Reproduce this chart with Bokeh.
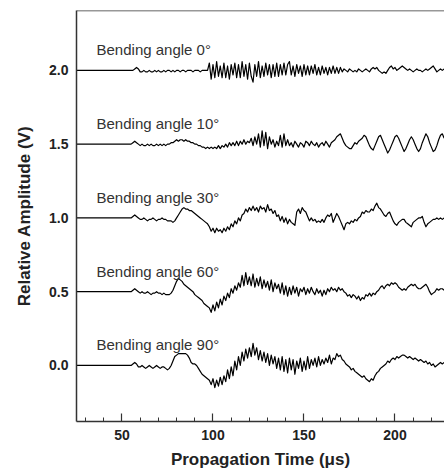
from bokeh.plotting import figure
from bokeh.models import ColumnDataSource, SingleIntervalTicker, FixedTicker, Span, NumeralTickFormatter
from bokeh.core.properties import value
from bokeh.embed import file_html
from bokeh.resources import INLINE

# ---- data ----
# time axis (µs): traces start at the left edge, sampled every 1 µs from 55 µs
t_left = 25
t_first = 55
offsets = [2.0, 1.5, 1.0, 0.5, 0.0]          # vertical offset of each trace (V)
angles = ["0", "10", "30", "60", "90"]       # bending angle of each trace
# deviations from the offset, in units of 0.01 V, one per µs from 55 µs
amp_0 = [0, 0, 1, 2, 1, -1, -1, 0, -1, -1, 0, -1, -1, 0, -1, 0, -1, -1, 0, -1,
         0, 0, -1, 0, -1, 0, 0, -1, 0, 0, -1, 0, 0, 0, -1, 0, 0, 0, -1, 0, 0, 0, 0,
         5, -6, 4, -5, 6, -4, 3, -5, 5, -5, 3, -6, 4, -3, 5, -5, 4, -5, 6, -4,
         4, -6, 5, -4, -8, 4, -4, 6, -5, 3, -4, 5, -3, 4, -5, 4, -4, 5, -4, 4,
         -3, 5, -3, 4, 6, -3, 3, -4, 4, -2, 3, -4, 4, -3, 3, -3, 3, -2, 4, -3,
         2, -3, 3, -2, 2, -3, 2, -2, 3, -2, 2, -2, 2,
         -1, 1, 0, -1, 1, 0, -1, 0, -1, 1, 0, -1, 0, 1, 0, -1, 1, 2, 1, 2,
         0, -1, -2, -1, -2, 0, 2, 3, 1, 2, 0, 1, 2, 3, 2, 1, 0, 1, 0, -1,
         0, 1, 0, 0, -1, 0, 1, 0, 1, 2, 3, 1, -1, 0, 1, 0, 1]
amp_10 = [0, 1, 2, 1, 0, -1, 0, -1, -1, 0, -1, 0, -1, -1, 0, -1, 0, -1, 0, -1,
          0, 0, 1, 1, 2, 3, 2, 3, 3, 2, 3, 2, 2, 1, 1, 0, 0, -1, -1, -2, -2, -3, -2,
          -3, -2, -3, -2, -3, -1, -3, -1, -2, 0, -2, 1, -1, 1, -1, 2, -1, 2, 0, 3,
          0, 2, 1, 4, -1, 5, 0,
          7, -2, 9, -1, 8, -3, 5, 0, 3, -2, 2, -1, 6, -2, 7, -1, 3,
          -1, 1, -2, 2, 0, -2, 1, 0, -2, 2, 1, -1, 2, 0, -1, 1, -2, 0, 1, -1,
          2, 0, -2, 1, 2, 3, 5, 6,
          7, 4, 1, -1, -2, -3, -3, -1, 1, 0, 2, 3, 4, 6, 5, 2, -1, -3, -4, -1,
          2, 5, 6, 3, 0, -3, -6, -4, -1, 2, 5, 6, 4, 1, -2, -5, -3, 0, 3, 5,
          3, 0, -3, -5, -3, 1, 4, 7, 5, 1, -2, -5, -4, -1, 3, 6, 7, 4]
amp_30 = [0, 1, 2, 1, 0, -1, -1, 0, -1, -2, -1, -1, 0, -1, -2, -1, -1, 0, -1, -1, -2, -2,
          -2, -3, -2, 0, 2, 4, 6, 7, 6, 6, 5, 5, 4, 3, 2, 1, 0, -1, -2, -3, -4,
          -6, -9, -7, -10, -7, -9, -8, -10, -7, -9, -6, -8, -4, -6, -2, -4, 0, -2, 2,
          3, 6, 4, 7, 5, 8, 5, 7, 4, 8, 6, 7, 4, 9, 5, 6, 3, 5, 1,
          2, -2, 1, -3, 0, -4, -1, -3, -4, -5, 4, 6, 3, 7, 5, 4, 1, -2, 0, -2,
          -1, -3, -2, -3, -1, -3, 0, 2, 1, 3, -3, 0, 3, 1, -2, -5, -8, -4, -3, -4,
          -2, -3, -1, -2, 0, 1, 4, 3, 5, 4, 4, 6, 5, 8, 10, 7, 6, 4, 2, 1,
          3, 4, 1, -2, -4, -5, -3, -2, -1, -1, -3, -4, -5, -6, -3, -2, -1, 0, 0, 1,
          -3, -6, -4, -3, -2, -1, -1, 0, -1, 0, -1, 0]
amp_60 = [0, 1, 2, 1, 0, -1, 0, -1, -1, 0, -1, -2, -1, -1, 0, -1, -1, -2, -1, -2, -2,
          -2, -1, 1, 4, 7, 9, 8, 7, 5, 4, 3, 2, 1, 0, -2, -3, -4, -5, -6, -8, -9, -10,
          -11, -14, -9, -13, -7, -11, -5, -9, -3, -6, -1, -4, 2, -1, 4, 1, 6,
          3, 11, 4, 13, 5, 10, 4, 12, 3, 9, 4, 10, 2, 8, 3, 7, 1, 8, 0, 6,
          2, 5, -1, 6, -2, 4,
          -3, 3, -2, 4, -1, 3, -3, 2, 0, 3, -2, 2, -1, 3, 0, -2, 2, -1, 1, -3,
          1, -2, 2, 0, 3, 1, 2, 0, 3, 1, 2, 0, -1,
          -3, -2, -4, -2, -3, -5, -3, -6, -4, -5, -2, -3, -1, -3, -1, -2, 0, 1, 3, 4,
          2, 4, 5, 4, 6, 5, 6, 5, 3, 2, 1, 2, 1, 3, 4, 5, 4, 5, 3, 2,
          2, 3, 4, 5, 3, 0, -2, -1, 0, 2, 1, 2, 2, 1]
amp_90 = [0, 1, 2, 1, -1, -1, 0, -1, -2, -1, 0, -1, -2, -1, 0, -1, -2, -1, -1, -2, -3, -2,
          0, 3, 6, 7, 8, 8, 8, 8, 8, 7, 5, 2, 1, 1, 0, -2, -4, -6, -7, -8, -9,
          -10, -13, -9, -15, -10, -14, -8, -13, -7, -11, -3, -9, -1, -7, 3, -3, 6, 0, 9, 3,
          11, 5, 12, 6, 15, 7, 12,
          4, 10, 3, 9, 2, 8, 0, 7, 1, 6, -2, 5, -3, 6, -4, 4, -5, 5, -3, 4,
          -6, 3, -2, 5, -4, 3, -3, 6, -2, 4, 0, 5, -1, 6, 0, 4, 1, 5, 2, 7,
          1, 5, 4,
          8, 6, 7, 4, 3, 1, 0, -1, -3, -2, -4, -5, -6, -7, -8, -7, -9, -10, -11, -9,
          -10, -7, -5, -4, -2, -1, 0, 1, 3, 2, 4, 5, 4, 6, 5, 6, 7, 7, 6, 5,
          6, 5, 4, 5, 4, 3, 4, 3, 2, 3, 1, 2, 0, 1, -1, 0, 1, 2, 1, 2]
traces = [amp_0, amp_10, amp_30, amp_60, amp_90]
x_ticks_interval = 50
y_ticks = [0.0, 0.5, 1.0, 1.5, 2.0]

x_lo, x_hi = 25, 227.2
y_lo, y_hi = -0.38, 2.406

FONT = "Liberation Sans"
INK = "#222222"

p = figure(width=444, height=471, x_range=(x_lo, x_hi), y_range=(y_lo, y_hi),
           output_backend="svg", toolbar_location=None,
           min_border_left=76, min_border_right=0, min_border_top=10, min_border_bottom=0)
p.grid.visible = False
p.outline_line_color = None
p.background_fill_color = "white"
p.border_fill_color = "white"

for off, amp in zip(offsets, traces):
    xs = [t_left] + [t_first + i for i in range(len(amp))]
    ys = [off] + [off + a / 100.0 for a in amp]
    src = ColumnDataSource(dict(x=xs, y=ys))
    p.line("x", "y", source=src, line_color="black", line_width=1.2, line_join="round")

lab_src = ColumnDataSource(dict(
    x=[36] * len(offsets),
    y=[o + 0.14 for o in offsets],
    text=["Bending angle %s\u00b0" % a for a in angles]))
p.text("x", "y", text="text", source=lab_src, text_font=value(FONT),
       text_font_size="15px", text_color="#333333",
       text_baseline="alphabetic", text_align="left")

# top frame line
p.add_layout(Span(location=y_hi, dimension="width", line_color="#333333", line_width=1.5))

xa = p.xaxis[0]
xa.ticker = SingleIntervalTicker(interval=x_ticks_interval, num_minor_ticks=5)
xa.major_tick_in = 8
xa.major_tick_out = 0
xa.minor_tick_in = 4
xa.minor_tick_out = 0
xa.axis_label = "Propagation Time (\u03bcs)"

ya = p.yaxis[0]
ya.ticker = FixedTicker(ticks=y_ticks)
ya.formatter = NumeralTickFormatter(format="0.0")
ya.major_tick_in = 0
ya.major_tick_out = 0
ya.minor_tick_line_color = None
ya.axis_label = "Relative Amplitude (V)"

for ax in (xa, ya):
    ax.axis_line_color = "#333333"
    ax.axis_line_width = 1.5
    ax.major_tick_line_color = "#333333"
    ax.major_tick_line_width = 1.2
    ax.minor_tick_line_color = "#333333" if ax is xa else None
    ax.minor_tick_line_width = 1.0
    ax.major_label_text_font = FONT
    ax.major_label_text_font_style = "bold"
    ax.major_label_text_font_size = "14px"
    ax.major_label_text_color = INK
    ax.axis_label_text_font = FONT
    ax.axis_label_text_font_style = "bold"
    ax.axis_label_text_font_size = "17px"
    ax.axis_label_text_color = INK

xa.major_label_standoff = 8
xa.axis_label_standoff = 7
ya.major_label_standoff = 8
ya.axis_label_standoff = 12

open("out.html", "w").write(file_html(p, INLINE))
